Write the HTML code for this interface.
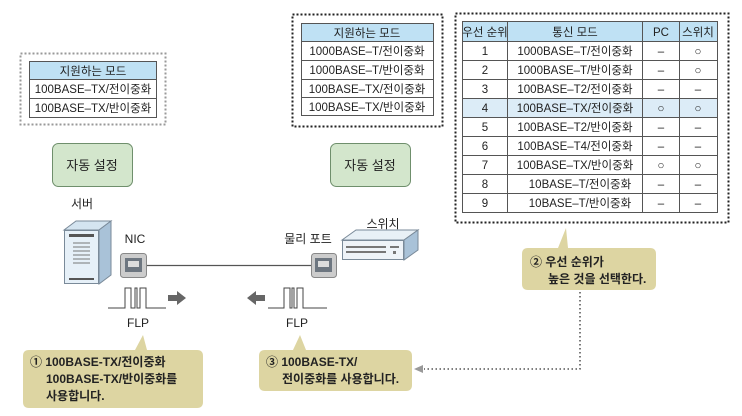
<!DOCTYPE html>
<html><head><meta charset="utf-8"><style>
body{margin:0;background:#fff;width:742px;height:411px;overflow:hidden}
svg text{font-family:"Liberation Sans","Noto Sans CJK KR",sans-serif}
</style></head><body>
<svg width="742" height="411" viewBox="0 0 742 411" xmlns="http://www.w3.org/2000/svg">
<defs>
<marker id="ah" markerWidth="8" markerHeight="8" refX="7" refY="4" orient="auto"><path d="M8,0 L0,4 L8,8 Z" fill="#999"/></marker>
</defs>
<!-- left box -->
<rect x="20.5" y="53.5" width="145" height="71" fill="none" stroke="#999" stroke-width="2" stroke-dasharray="2,2"/>
<rect x="29.5" y="61.5" width="127" height="18" fill="#bfe1f4" stroke="#555"/>
<rect x="29.5" y="79.5" width="127" height="38" fill="#fff" stroke="#555"/>
<line x1="29.5" y1="98.5" x2="156.5" y2="98.5" stroke="#555"/>
<g font-size="11.5" fill="#222" text-anchor="middle">
<text x="93" y="75">지원하는 모드</text>
<text x="93" y="93">100BASE–TX/전이중화</text>
<text x="93" y="112">100BASE–TX/반이중화</text>
</g>
<!-- mid box -->
<rect x="292.5" y="14.5" width="150" height="112" fill="none" stroke="#222" stroke-width="2" stroke-dasharray="2,2"/>
<rect x="301.5" y="23.5" width="132" height="18" fill="#bfe1f4" stroke="#555"/>
<rect x="301.5" y="41.5" width="132" height="74" fill="#fff" stroke="#555"/>
<line x1="301.5" y1="60.5" x2="433.5" y2="60.5" stroke="#555"/>
<line x1="301.5" y1="79.5" x2="433.5" y2="79.5" stroke="#555"/>
<line x1="301.5" y1="97.5" x2="433.5" y2="97.5" stroke="#555"/>
<g font-size="11.5" fill="#222" text-anchor="middle">
<text x="367" y="37">지원하는 모드</text>
<text x="367" y="55">1000BASE–T/전이중화</text>
<text x="367" y="74">1000BASE–T/반이중화</text>
<text x="367" y="93">100BASE–TX/전이중화</text>
<text x="367" y="111">100BASE–TX/반이중화</text>
</g>
<!-- auto buttons -->
<rect x="52.5" y="143.5" width="80" height="43" rx="6" fill="#d3e6cc" stroke="#6f8f6c"/>
<text x="92" y="170" font-size="13" text-anchor="middle" fill="#222">자동 설정</text>
<rect x="330.5" y="143.5" width="80" height="43" rx="6" fill="#d3e6cc" stroke="#6f8f6c"/>
<text x="370" y="170" font-size="13" text-anchor="middle" fill="#222">자동 설정</text>
<!-- right table -->
<rect x="455.5" y="13.5" width="273" height="209" fill="none" stroke="#222" stroke-width="2" stroke-dasharray="2,2"/>
<rect x="462.5" y="21.5" width="255" height="20" fill="#bfe1f4" stroke="#555"/>
<rect x="462.5" y="98.5" width="255" height="19" fill="#dcecf7"/>
<rect x="462.5" y="41.5" width="255" height="171" fill="none" stroke="#555"/>
<g stroke="#555">
<line x1="507.5" y1="21.5" x2="507.5" y2="212.5"/>
<line x1="642.5" y1="21.5" x2="642.5" y2="212.5"/>
<line x1="679.5" y1="21.5" x2="679.5" y2="212.5"/>
<line x1="462.5" y1="60.5" x2="717.5" y2="60.5"/>
<line x1="462.5" y1="79.5" x2="717.5" y2="79.5"/>
<line x1="462.5" y1="98.5" x2="717.5" y2="98.5"/>
<line x1="462.5" y1="117.5" x2="717.5" y2="117.5"/>
<line x1="462.5" y1="136.5" x2="717.5" y2="136.5"/>
<line x1="462.5" y1="155.5" x2="717.5" y2="155.5"/>
<line x1="462.5" y1="174.5" x2="717.5" y2="174.5"/>
<line x1="462.5" y1="193.5" x2="717.5" y2="193.5"/>
</g>
<g font-size="11.5" fill="#222" text-anchor="middle">
<text x="485" y="36">우선 순위</text><text x="575" y="36">통신 모드</text><text x="661" y="36">PC</text><text x="698" y="36">스위치</text>
<text x="485" y="55">1</text><text x="575" y="55">1000BASE–T/전이중화</text><text x="661" y="55">–</text><text x="698" y="55">○</text>
<text x="485" y="74">2</text><text x="575" y="74">1000BASE–T/반이중화</text><text x="661" y="74">–</text><text x="698" y="74">○</text>
<text x="485" y="93">3</text><text x="575" y="93">100BASE–T2/전이중화</text><text x="661" y="93">–</text><text x="698" y="93">–</text>
<text x="485" y="112">4</text><text x="575" y="112">100BASE–TX/전이중화</text><text x="661" y="112">○</text><text x="698" y="112">○</text>
<text x="485" y="131">5</text><text x="575" y="131">100BASE–T2/반이중화</text><text x="661" y="131">–</text><text x="698" y="131">–</text>
<text x="485" y="150">6</text><text x="575" y="150">100BASE–T4/전이중화</text><text x="661" y="150">–</text><text x="698" y="150">–</text>
<text x="485" y="169">7</text><text x="575" y="169">100BASE–TX/반이중화</text><text x="661" y="169">○</text><text x="698" y="169">○</text>
<text x="485" y="188">8</text><text x="580" y="188">10BASE–T/전이중화</text><text x="661" y="188">–</text><text x="698" y="188">–</text>
<text x="485" y="207">9</text><text x="580" y="207">10BASE–T/반이중화</text><text x="661" y="207">–</text><text x="698" y="207">–</text>
</g>
<!-- callout 2 -->
<path d="M528,248 H558 L566,228 L568,248 H650 Q656,248 656,254 V284 Q656,290 650,290 H528 Q522,290 522,284 V254 Q522,248 528,248 Z" fill="#ddd5a2"/>
<g font-size="12" font-weight="bold" fill="#222"><text x="530" y="266">② 우선 순위가</text><text x="548" y="283">높은 것을 선택한다.</text></g>
<path d="M580,292 V369 H424" fill="none" stroke="#333" stroke-width="1.3" stroke-dasharray="1.5,2.5"/>
<path d="M414,369 L423,365 L423,373 Z" fill="#999"/>
<!-- server -->
<path d="M64,230 L76,221 L111,221 L99,230 Z" fill="#d4e4f0" stroke="#7a8a99"/>
<path d="M99,230 L111,221 L111,275 L99,284 Z" fill="#a9c2d8" stroke="#7a8a99"/>
<rect x="64.5" y="230.5" width="34" height="53" fill="#e6f0f8" stroke="#7a8a99"/>
<rect x="69" y="234" width="25" height="3" fill="#555"/>
<g stroke="#777"><line x1="73" y1="243" x2="90" y2="243"/><line x1="73" y1="247" x2="90" y2="247"/><line x1="73" y1="251" x2="90" y2="251"/><line x1="73" y1="255" x2="90" y2="255"/><line x1="73" y1="259" x2="90" y2="259"/><line x1="73" y1="263" x2="90" y2="263"/></g>
<rect x="69" y="278" width="25" height="2" fill="#555"/>
<text x="82" y="208" font-size="12" text-anchor="middle" fill="#222">서버</text>
<text x="135" y="243" font-size="12" text-anchor="middle" fill="#222">NIC</text>
<!-- NIC port -->
<rect x="120.5" y="253.5" width="26" height="24" rx="3" fill="#ccc" stroke="#888"/>
<rect x="125" y="258" width="17" height="14" fill="#6d7680"/>
<rect x="128" y="261" width="11" height="6" fill="#ddd"/>
<line x1="147" y1="265.5" x2="311" y2="265.5" stroke="#555" stroke-width="1.3"/>
<rect x="311.5" y="253.5" width="25" height="24" rx="3" fill="#ccc" stroke="#888"/>
<rect x="315" y="258" width="17" height="14" fill="#6d7680"/>
<rect x="318" y="261" width="11" height="6" fill="#ddd"/>
<text x="308" y="243" font-size="12" text-anchor="middle" fill="#222">물리 포트</text>
<text x="383" y="228" font-size="12" text-anchor="middle" fill="#222">스위치</text>
<!-- switch -->
<path d="M342,240 L356,230 L418,230 L404,240 Z" fill="#e8f0f6" stroke="#7a8a99"/>
<path d="M404,240 L418,230 L418,250 L404,260 Z" fill="#a9c2d8" stroke="#7a8a99"/>
<rect x="342.5" y="240.5" width="61" height="19" fill="#eef3f8" stroke="#7a8a99"/>
<g fill="#777"><rect x="346" y="246" width="40" height="2"/><rect x="346" y="251" width="40" height="2"/><rect x="390" y="246" width="9" height="2"/><rect x="393" y="251" width="3" height="3"/></g>
<!-- pulses -->
<path d="M108,308 H125 V288 H131 V308 H135 V288 H137 V308 H140 V288 H146 V308 H166" fill="none" stroke="#444"/>
<path d="M168,295 H177 V291 L186,298 L177,305 V301 H168 Z" fill="#666"/>
<path d="M268,308 H284 V288 H290 V308 H292 V288 H294 V308 H297 V288 H303 V308 H327" fill="none" stroke="#444"/>
<path d="M265,295 H256 V291 L247,298 L256,305 V301 H265 Z" fill="#666"/>
<text x="138" y="327" font-size="12" text-anchor="middle" fill="#222">FLP</text>
<text x="297" y="327" font-size="12" text-anchor="middle" fill="#222">FLP</text>
<!-- callout 1 -->
<path d="M29,350 H135 L143,335 L147,350 H197 Q203,350 203,356 V402 Q203,408 197,408 H29 Q23,408 23,402 V356 Q23,350 29,350 Z" fill="#ddd5a2"/>
<g font-size="12" font-weight="bold" fill="#222"><text x="30" y="366">① 100BASE-TX/전이중화</text><text x="46" y="383">100BASE-TX/반이중화를</text><text x="46" y="400">사용합니다.</text></g>
<!-- callout 3 -->
<path d="M265,350 H293 L300,335 L306,350 H406 Q412,350 412,356 V385 Q412,391 406,391 H265 Q259,391 259,385 V356 Q259,350 265,350 Z" fill="#ddd5a2"/>
<g font-size="12" font-weight="bold" fill="#222"><text x="266" y="366">③ 100BASE-TX/</text><text x="282" y="383">전이중화를 사용합니다.</text></g>
</svg>
</body></html>
